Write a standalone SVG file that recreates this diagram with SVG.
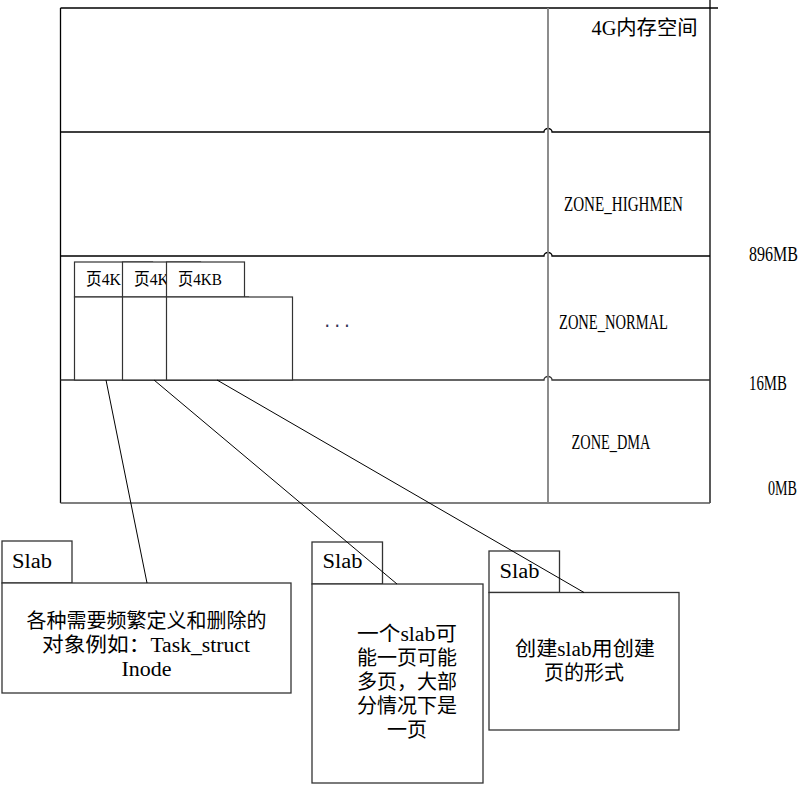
<svg xmlns="http://www.w3.org/2000/svg" width="810" height="785" viewBox="0 0 810 785">
<style>
.t{font-family:"Liberation Serif","Noto Sans CJK SC",serif;font-size:20px;fill:#000}
.pg{font-family:"Liberation Serif","Noto Sans CJK SC",serif;font-size:17px;fill:#000}
.box{fill:#fff;stroke:#333;stroke-width:1.3}
.pbox{fill:#fff;stroke:#333;stroke-width:1.2}
.frame{fill:none;stroke:#000;stroke-width:1.3}
.conn{stroke:#000;stroke-width:1;fill:none}
</style>
<rect width="810" height="785" fill="#fff"/>
<g id="memory">
  <line class="frame" x1="60.5" y1="8" x2="718" y2="8"/>
  <line class="frame" x1="60.5" y1="8" x2="60.5" y2="503"/>
  <line class="frame" x1="710" y1="0" x2="710" y2="503"/>
  <line x1="60.5" y1="503" x2="710" y2="503" stroke="#555" stroke-width="1.5"/>
  <path class="frame" d="M60.5,132 H544 A4,3.5 0 0 1 552,132 H710"/>
  <path class="frame" d="M60.5,256 H544 A4,3.5 0 0 1 552,256 H710"/>
  <path d="M60.5,380 H544 A4,3.5 0 0 1 552,380 H710" fill="none" stroke="#333" stroke-width="1.3"/>
  <line x1="548" y1="8" x2="548" y2="503" stroke="#808080" stroke-width="1.8"/>
  <text class="t" x="591.5" y="35" textLength="106" lengthAdjust="spacingAndGlyphs">4G内存空间</text>
  <text class="t" x="564" y="211" textLength="119" lengthAdjust="spacingAndGlyphs" font-size="19">ZONE_HIGHMEN</text>
  <text class="t" x="559" y="329" textLength="109" lengthAdjust="spacingAndGlyphs" font-size="19">ZONE_NORMAL</text>
  <text class="t" x="571.5" y="449" textLength="79" lengthAdjust="spacingAndGlyphs" font-size="19">ZONE_DMA</text>
  <text class="t" x="749" y="261" textLength="49" lengthAdjust="spacingAndGlyphs" font-size="19">896MB</text>
  <text class="t" x="749" y="390" textLength="38" lengthAdjust="spacingAndGlyphs" font-size="19">16MB</text>
  <text class="t" x="768" y="495" textLength="29" lengthAdjust="spacingAndGlyphs" font-size="19">0MB</text>
  <text x="322.3" y="327" font-family="Liberation Mono,monospace" font-size="16.5" fill="#335">...</text>
</g>
<g id="page1">
  <rect class="pbox" x="74.5" y="262" width="78" height="35"/>
  <rect class="pbox" x="74.5" y="297" width="126" height="83"/>
  <text class="pg" x="86" y="285" textLength="35" lengthAdjust="spacingAndGlyphs">页4K</text>
</g>
<g id="page2">
  <rect class="pbox" x="122.5" y="262" width="78" height="35"/>
  <rect class="pbox" x="122.5" y="297" width="126" height="83"/>
  <text class="pg" x="134" y="285" textLength="35" lengthAdjust="spacingAndGlyphs">页4K</text>
</g>
<g id="page3">
  <rect class="pbox" x="166.5" y="262" width="78" height="35"/>
  <rect class="pbox" x="166.5" y="297" width="126" height="83"/>
  <text class="pg" x="178" y="285" textLength="44" lengthAdjust="spacingAndGlyphs">页4KB</text>
</g>
<g id="slab1">
  <rect class="box" x="2" y="541" width="70" height="42"/>
  <rect class="box" x="2" y="583" width="289" height="110"/>
  <text class="t" x="12" y="568" textLength="40" lengthAdjust="spacingAndGlyphs">Slab</text>
  <text class="t" x="146.5" y="628" text-anchor="middle">各种需要频繁定义和删除的</text>
  <text class="t" x="42" y="652" textLength="208" lengthAdjust="spacingAndGlyphs">对象例如：Task_struct</text>
  <text class="t" x="121.5" y="676" textLength="50" lengthAdjust="spacingAndGlyphs">Inode</text>
</g>
<g id="slab2">
  <rect class="box" x="312" y="542" width="70.5" height="42"/>
  <rect class="box" x="312" y="584" width="171" height="199"/>
  <text class="t" x="322.5" y="568" textLength="40" lengthAdjust="spacingAndGlyphs">Slab</text>
  <text class="t" x="357" y="641" textLength="100" lengthAdjust="spacingAndGlyphs">一个slab可</text>
  <text class="t" x="357" y="665" textLength="100" lengthAdjust="spacingAndGlyphs">能一页可能</text>
  <text class="t" x="357" y="689" textLength="100" lengthAdjust="spacingAndGlyphs">多页，大部</text>
  <text class="t" x="357" y="713" textLength="100" lengthAdjust="spacingAndGlyphs">分情况下是</text>
  <text class="t" x="387" y="737" textLength="40" lengthAdjust="spacingAndGlyphs">一页</text>
</g>
<g id="slab3">
  <rect class="box" x="489" y="551" width="70.5" height="41.5"/>
  <rect class="box" x="489" y="592.5" width="190" height="137.5"/>
  <text class="t" x="499.5" y="578" textLength="40" lengthAdjust="spacingAndGlyphs">Slab</text>
  <text class="t" x="515" y="656" textLength="140" lengthAdjust="spacingAndGlyphs">创建slab用创建</text>
  <text class="t" x="544" y="680" textLength="80" lengthAdjust="spacingAndGlyphs">页的形式</text>
</g>
<g id="connectors">
  <line class="conn" x1="106" y1="380" x2="147" y2="583"/>
  <line class="conn" x1="154" y1="380" x2="397" y2="584"/>
  <line class="conn" x1="217" y1="380" x2="584" y2="592.5"/>
</g>
</svg>
